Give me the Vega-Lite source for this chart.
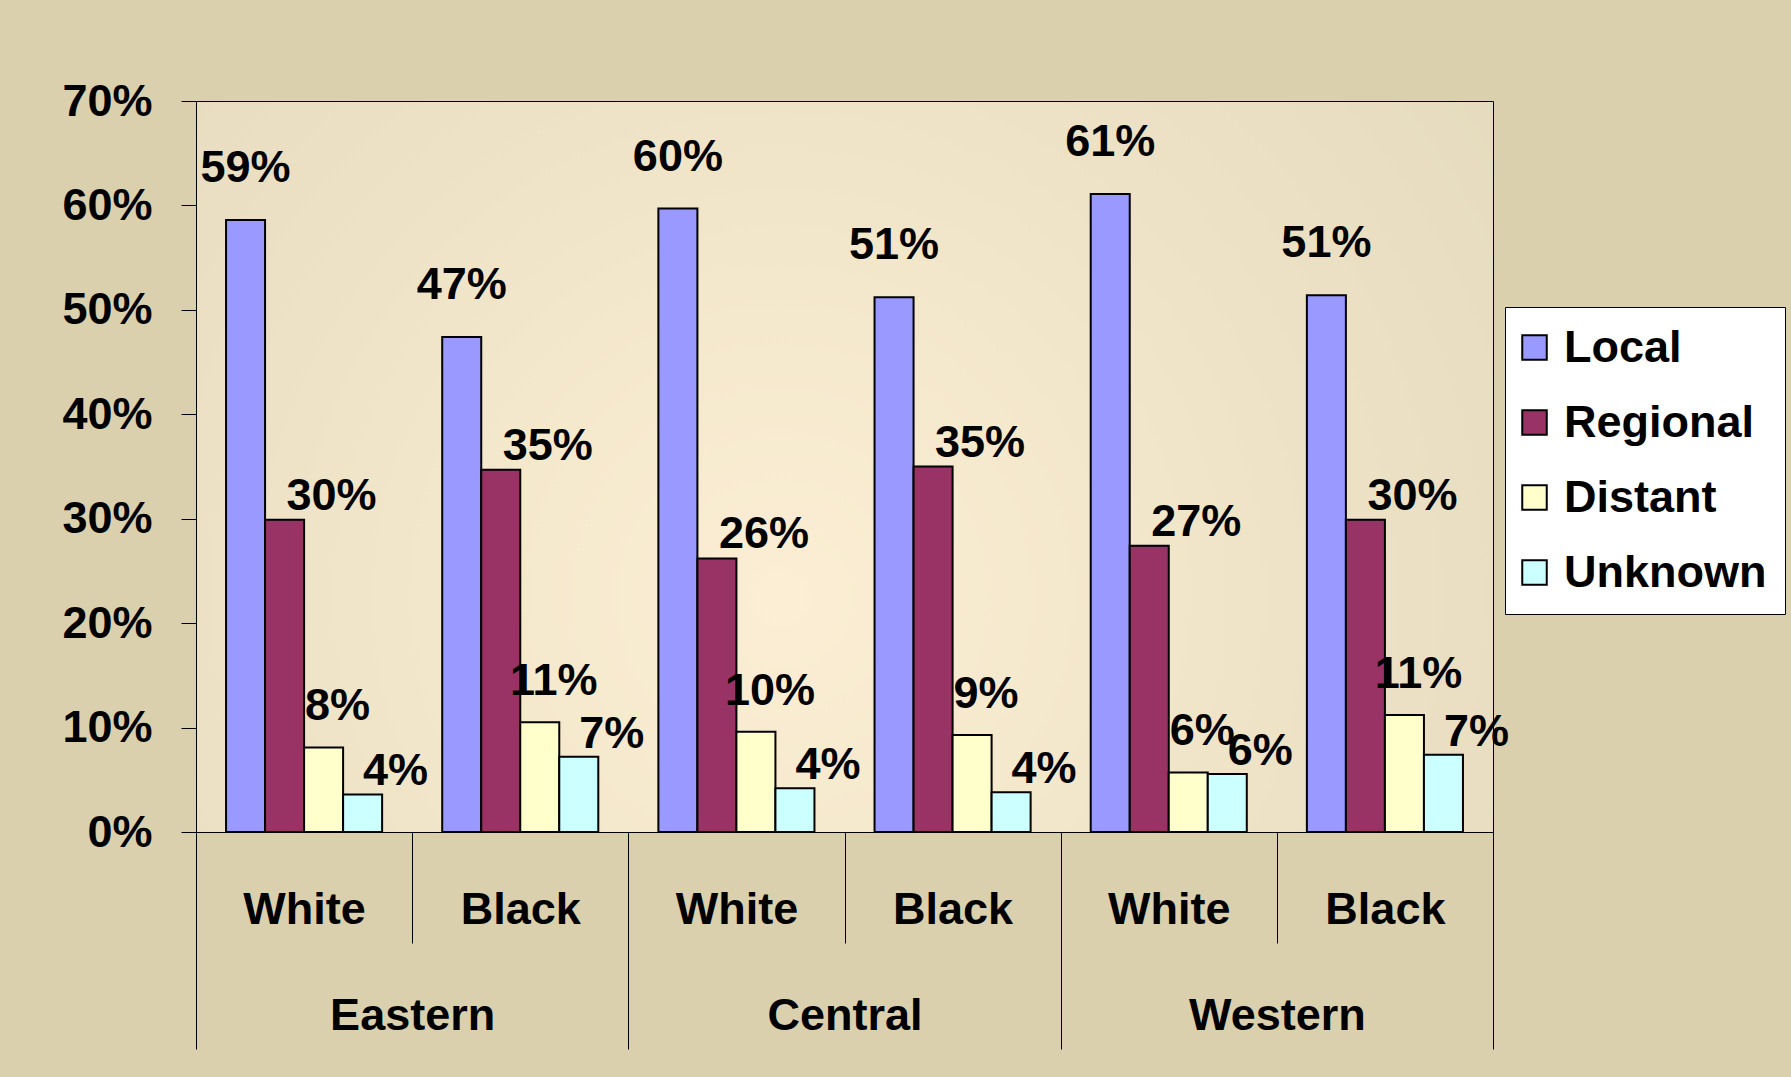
{
  "$schema": "https://vega.github.io/schema/vega-lite/v6.json",
  "width": 1297,
  "height": 731,
  "autosize": {"type": "none"},
  "padding": {"left": 196, "top": 101, "right": 298, "bottom": 245},
  "background": "#dbd0ae",
  "view": {
    "fill": {"gradient": "radial", "x1": 0.45, "y1": 0.6, "r1": 0, "x2": 0.45, "y2": 0.6, "r2": 0.8,
      "stops": [{"offset": 0, "color": "#fbeed4"}, {"offset": 1, "color": "#e1d7b9"}]},
    "stroke": "black",
    "strokeWidth": 1
  },
  "data": {
    "values": [
      {"region": "Eastern", "race": "White", "group": "Eastern White", "category": "Local", "value": 0.586},
      {"region": "Eastern", "race": "White", "group": "Eastern White", "category": "Regional", "value": 0.299},
      {"region": "Eastern", "race": "White", "group": "Eastern White", "category": "Distant", "value": 0.081},
      {"region": "Eastern", "race": "White", "group": "Eastern White", "category": "Unknown", "value": 0.036},
      {"region": "Eastern", "race": "Black", "group": "Eastern Black", "category": "Local", "value": 0.474},
      {"region": "Eastern", "race": "Black", "group": "Eastern Black", "category": "Regional", "value": 0.347},
      {"region": "Eastern", "race": "Black", "group": "Eastern Black", "category": "Distant", "value": 0.105},
      {"region": "Eastern", "race": "Black", "group": "Eastern Black", "category": "Unknown", "value": 0.072},
      {"region": "Central", "race": "White", "group": "Central White", "category": "Local", "value": 0.597},
      {"region": "Central", "race": "White", "group": "Central White", "category": "Regional", "value": 0.262},
      {"region": "Central", "race": "White", "group": "Central White", "category": "Distant", "value": 0.096},
      {"region": "Central", "race": "White", "group": "Central White", "category": "Unknown", "value": 0.042},
      {"region": "Central", "race": "Black", "group": "Central Black", "category": "Local", "value": 0.512},
      {"region": "Central", "race": "Black", "group": "Central Black", "category": "Regional", "value": 0.35},
      {"region": "Central", "race": "Black", "group": "Central Black", "category": "Distant", "value": 0.093},
      {"region": "Central", "race": "Black", "group": "Central Black", "category": "Unknown", "value": 0.038},
      {"region": "Western", "race": "White", "group": "Western White", "category": "Local", "value": 0.611},
      {"region": "Western", "race": "White", "group": "Western White", "category": "Regional", "value": 0.274},
      {"region": "Western", "race": "White", "group": "Western White", "category": "Distant", "value": 0.057},
      {"region": "Western", "race": "White", "group": "Western White", "category": "Unknown", "value": 0.0555},
      {"region": "Western", "race": "Black", "group": "Western Black", "category": "Local", "value": 0.514},
      {"region": "Western", "race": "Black", "group": "Western Black", "category": "Regional", "value": 0.299},
      {"region": "Western", "race": "Black", "group": "Western Black", "category": "Distant", "value": 0.112},
      {"region": "Western", "race": "Black", "group": "Western Black", "category": "Unknown", "value": 0.074}
    ]
  },
  "layer": [
    {
      "encoding": {
        "x": {
          "field": "group", "type": "nominal",
          "sort": ["Eastern White", "Eastern Black", "Central White", "Central Black", "Western White", "Western Black"],
          "scale": {"paddingInner": 0, "paddingOuter": 0},
          "axis": {
            "title": null, "orient": "bottom",
            "labelExpr": "split(datum.label, ' ')[1]",
            "tickBand": "extent", "tickSize": 111, "tickColor": "black", "tickWidth": 1,
            "domain": false, "labelAngle": 0, "labelLimit": 0,
            "labelFont": "Liberation Sans, Arial, sans-serif",
            "labelFontSize": 45, "labelFontWeight": "bold", "labelColor": "black",
            "labelBaseline": "middle", "labelPadding": -34
          }
        },
        "xOffset": {
          "field": "category", "type": "nominal",
          "sort": ["Local", "Regional", "Distant", "Unknown"],
          "scale": {"paddingInner": 0, "paddingOuter": 0.77}
        },
        "y": {
          "field": "value", "type": "quantitative",
          "scale": {"domain": [0, 0.7], "nice": false},
          "axis": {
            "title": null, "format": ".0%", "values": [0, 0.1, 0.2, 0.3, 0.4, 0.5, 0.6, 0.7],
            "tickSize": 15, "tickColor": "black", "tickWidth": 1, "grid": false, "domain": false,
            "labelPadding": 29,
            "labelFont": "Liberation Sans, Arial, sans-serif",
            "labelFontSize": 45, "labelFontWeight": "bold", "labelColor": "black"
          }
        }
      },
      "layer": [
        {
          "mark": {"type": "bar", "stroke": "black", "strokeWidth": 2, "opacity": 1},
          "encoding": {
            "color": {
              "field": "category", "type": "nominal",
              "sort": ["Local", "Regional", "Distant", "Unknown"],
              "scale": {"domain": ["Local", "Regional", "Distant", "Unknown"], "range": ["#9999ff", "#993366", "#ffffcc", "#ccffff"]},
              "legend": {
                "title": null, "orient": "none", "legendX": 1309, "legendY": 206,
                "symbolType": "square", "symbolSize": 600, "symbolStrokeColor": "black", "symbolStrokeWidth": 2,
                "symbolOpacity": 1, "symbolOffset": -11,
                "labelFont": "Liberation Sans, Arial, sans-serif", "labelFontSize": 45, "labelFontWeight": "bold",
                "labelColor": "black", "labelOffset": 7, "labelLimit": 400, "rowPadding": 29, "padding": 18,
                "fillColor": "white", "strokeColor": "black", "cornerRadius": 0
              }
            }
          }
        },
        {
          "mark": {
            "type": "text", "align": "center", "baseline": "middle",
            "font": "Liberation Sans, Arial, sans-serif",
            "fontSize": 45, "fontWeight": "bold", "color": "black",
            "dx": {"expr": "datum.category == 'Local' ? 0 : datum.category == 'Regional' ? 47 : datum.category == 'Distant' ? 14 : 33"},
            "dy": {"expr": "datum.category == 'Local' ? -52 : datum.category == 'Regional' ? -24 : datum.category == 'Distant' ? -41 : -23"}
          },
          "encoding": {
            "text": {"field": "value", "type": "quantitative", "format": ".0%"}
          }
        }
      ]
    },
    {
      "mark": {"type": "point", "opacity": 0},
      "encoding": {
        "x": {
          "field": "region", "type": "nominal",
          "sort": ["Eastern", "Central", "Western"],
          "scale": {"paddingInner": 0, "paddingOuter": 0},
          "axis": {
            "title": null, "orient": "bottom",
            "tickBand": "extent", "tickSize": 217, "tickColor": "black", "tickWidth": 1,
            "domain": false, "labelAngle": 0, "labelLimit": 0,
            "labelFont": "Liberation Sans, Arial, sans-serif",
            "labelFontSize": 45, "labelFontWeight": "bold", "labelColor": "black",
            "labelBaseline": "middle", "labelPadding": -33.5
          }
        }
      }
    }
  ],
  "resolve": {"scale": {"x": "independent"}}
}
